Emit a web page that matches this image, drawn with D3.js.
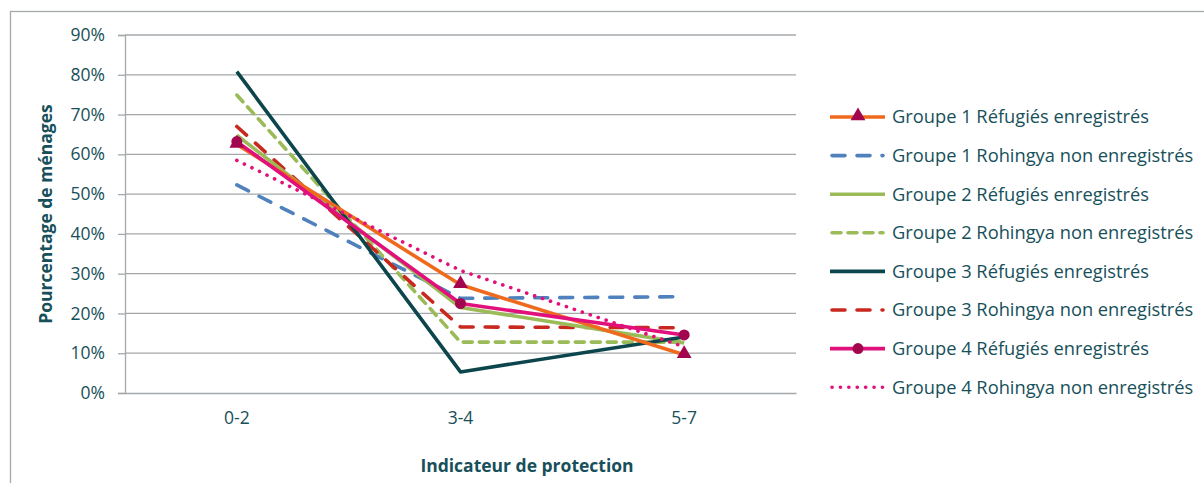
<!DOCTYPE html>
<html>
<head>
<meta charset="utf-8">
<script src="https://cdn.jsdelivr.net/npm/d3@7"></script>
<style>
  html, body { margin: 0; padding: 0; background: #fff; }
  svg { display: block; }
  text { font-family: "Open Sans", "Noto Sans", sans-serif; fill: #17505A; }
</style>
</head>
<body>
<svg id="chart" width="1204" height="483"></svg>
<script>
// Protection indicator categories and share of households (%)
const categories = ["0-2", "3-4", "5-7"];
const yTicks = [0, 10, 20, 30, 40, 50, 60, 70, 80, 90];

const seriesNames = [
  "Groupe 1 Réfugiés enregistrés",
  "Groupe 1 Rohingya non enregistrés",
  "Groupe 2 Réfugiés enregistrés",
  "Groupe 2 Rohingya non enregistrés",
  "Groupe 3 Réfugiés enregistrés",
  "Groupe 3 Rohingya non enregistrés",
  "Groupe 4 Réfugiés enregistrés",
  "Groupe 4 Rohingya non enregistrés"
];

const g1Refugies = [62.5, 27.2, 9.6];
const g1Rohingya = [52.3, 23.8, 24.2];
const g2Refugies = [64.8, 21.5, 12.6];
const g2Rohingya = [74.9, 12.8, 12.8];
const g3Refugies = [80.8, 5.3, 14.1];
const g3Rohingya = [67.0, 16.6, 16.4];
const g4Refugies = [63.2, 22.5, 14.6];
const g4Rohingya = [58.5, 30.8, 11.6];

// Drawing order (bottom to top) and style per series
const series = [
  { name: seriesNames[1], values: g1Rohingya, color: "#4F81BD", dash: "13,12", cap: "round" },
  { name: seriesNames[3], values: g2Rohingya, color: "#9BBB59", dash: "9,7", cap: "round" },
  { name: seriesNames[5], values: g3Rohingya, color: "#C8281E", dash: "13,12", cap: "round" },
  { name: seriesNames[2], values: g2Refugies, color: "#9BBB59", dash: null, cap: "butt" },
  { name: seriesNames[4], values: g3Refugies, color: "#0C464C", dash: null, cap: "butt" },
  { name: seriesNames[0], values: g1Refugies, color: "#F06A1E", dash: null, cap: "butt", marker: "triangle" },
  { name: seriesNames[7], values: g4Rohingya, color: "#E2107A", dash: "0.1,8.3", cap: "round" },
  { name: seriesNames[6], values: g4Refugies, color: "#E2107A", dash: null, cap: "butt", marker: "circle" }
];
const markerColor = "#A2064F";

const svg = d3.select("#chart");
const margin = { left: 125, right: 408, top: 35, bottom: 90 };
const W = 1204, H = 483;
const plotW = W - margin.left - margin.right;
const plotH = H - margin.top - margin.bottom;

// Outer frame
svg.append("rect")
  .attr("x", 10.5).attr("y", 11.5)
  .attr("width", 1300).attr("height", 600)
  .attr("fill", "none").attr("stroke", "#A4A8AB").attr("stroke-width", 1.3);

const g = svg.append("g").attr("transform", `translate(${margin.left},${margin.top})`);

const x = d3.scaleBand().domain(categories).range([0, plotW]);
const y = d3.scaleLinear().domain([0, 90]).range([plotH, 0]);

// Horizontal gridlines
g.append("g").selectAll("line").data(yTicks.filter(d => d > 0)).join("line")
  .attr("x1", 0).attr("x2", plotW)
  .attr("y1", d => y(d)).attr("y2", d => y(d))
  .attr("stroke", "#A4A8AB").attr("stroke-width", 1.3);

// Y axis
const yAxis = g.append("g")
  .call(d3.axisLeft(y).tickValues(yTicks).tickSize(7).tickPadding(13).tickFormat(d => d + "%"));
yAxis.select(".domain").attr("stroke", "#A4A8AB").attr("stroke-width", 1.3);
yAxis.selectAll(".tick line").attr("stroke", "#A4A8AB").attr("stroke-width", 1.3);
yAxis.selectAll(".tick text").attr("font-size", 17.5).style("fill", "#17505A")
  .attr("font-family", "'Open Sans', sans-serif");

// X axis
const xAxis = g.append("g").attr("transform", `translate(0,${plotH})`)
  .call(d3.axisBottom(x).tickSize(0).tickPadding(19));
xAxis.select(".domain").attr("stroke", "#A4A8AB").attr("stroke-width", 1.3);
xAxis.selectAll(".tick text").attr("font-size", 17.5).style("fill", "#17505A")
  .attr("font-family", "'Open Sans', sans-serif");

// Axis titles
svg.append("text")
  .attr("x", 527).attr("y", 472)
  .attr("text-anchor", "middle").attr("font-size", 17.5).attr("font-weight", "bold")
  .text("Indicateur de protection");
svg.append("text")
  .attr("transform", `translate(52,${margin.top + plotH / 2}) rotate(-90)`)
  .attr("text-anchor", "middle").attr("font-size", 17.5).attr("font-weight", "bold")
  .text("Pourcentage de ménages");

// Lines
const line = d3.line()
  .x((d, i) => x(categories[i]) + x.bandwidth() / 2)
  .y(d => y(d));

g.append("g").selectAll("path").data(series).join("path")
  .attr("d", d => line(d.values))
  .attr("fill", "none")
  .attr("stroke", d => d.color)
  .attr("stroke-width", 3.6)
  .attr("stroke-linejoin", "round")
  .attr("stroke-linecap", d => d.cap)
  .attr("stroke-dasharray", d => d.dash);

// Markers
const tri = d3.symbol().type(d3.symbolTriangle).size(95);
series.filter(s => s.marker).forEach(s => {
  const mg = g.append("g");
  s.values.forEach((v, i) => {
    const cx = x(categories[i]) + x.bandwidth() / 2;
    if (s.marker === "circle") {
      mg.append("circle").attr("cx", cx).attr("cy", y(v)).attr("r", 5.5).attr("fill", markerColor);
    } else {
      mg.append("path").attr("d", tri()).attr("transform", `translate(${cx},${y(v) - 1})`).attr("fill", markerColor);
    }
  });
});

// Legend
const legendOrder = [0, 1, 2, 3, 4, 5, 6, 7].map(i => series.find(s => s.name === seriesNames[i]));
const lg = svg.append("g").attr("transform", "translate(830,117)");
const rowH = 38.6;
legendOrder.forEach((s, i) => {
  const row = lg.append("g").attr("transform", `translate(0,${i * rowH})`);
  row.append("line")
    .attr("x1", s.cap === "round" ? 2 : 0).attr("x2", s.cap === "round" ? 53 : 55)
    .attr("y1", 0).attr("y2", 0)
    .attr("stroke", s.color).attr("stroke-width", 3.6)
    .attr("stroke-linecap", s.cap)
    .attr("stroke-dasharray", s.dash);
  if (s.marker === "circle") {
    row.append("circle").attr("cx", 28).attr("cy", 0).attr("r", 5.5).attr("fill", markerColor);
  } else if (s.marker === "triangle") {
    row.append("path").attr("d", tri()).attr("transform", "translate(28,-1)").attr("fill", markerColor);
  }
  row.append("text")
    .attr("x", 62).attr("y", 0).attr("dy", "0.35em")
    .attr("font-size", 18.3)
    .text(s.name);
});
</script>
</body>
</html>
